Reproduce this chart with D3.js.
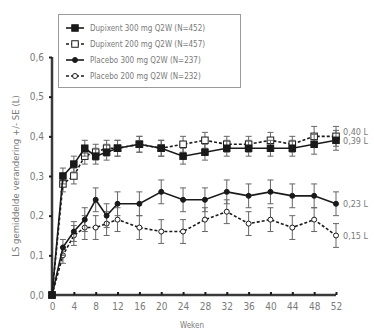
<!DOCTYPE html>
<html>
<head>
<meta charset="utf-8">
<script src="https://cdn.jsdelivr.net/npm/d3@7"></script>
<style>
  body { margin: 0; background: #fff; }
  svg text { font-family: "Liberation Sans Narrow", "DejaVu Sans Condensed", "Liberation Sans", sans-serif; fill: #7a7a7a; }
</style>
</head>
<body>
<svg id="chart" width="374" height="336"></svg>
<script>
// weeks of measurement
const weeks = [0, 2, 4, 6, 8, 10, 12, 16, 20, 24, 28, 32, 36, 40, 44, 48, 52];

// LS mean change (L) per series
const dupi300 = [0, 0.30, 0.33, 0.37, 0.35, 0.36, 0.37, 0.38, 0.37, 0.35, 0.36, 0.37, 0.37, 0.37, 0.37, 0.38, 0.39];
const dupi200 = [0, 0.28, 0.30, 0.35, 0.36, 0.37, 0.37, 0.38, 0.37, 0.38, 0.39, 0.38, 0.38, 0.39, 0.38, 0.40, 0.40];
const plac300 = [0, 0.12, 0.16, 0.19, 0.24, 0.20, 0.23, 0.23, 0.26, 0.24, 0.24, 0.26, 0.25, 0.26, 0.25, 0.25, 0.23];
const plac200 = [0, 0.10, 0.15, 0.17, 0.17, 0.18, 0.19, 0.17, 0.16, 0.16, 0.19, 0.21, 0.18, 0.19, 0.17, 0.19, 0.15];

// standard errors
const dupiSE = [0, 0.02, 0.02, 0.02, 0.02, 0.02, 0.02, 0.02, 0.02, 0.02, 0.02, 0.02, 0.02, 0.02, 0.02, 0.025, 0.025];
const placSE = [0, 0.02, 0.025, 0.03, 0.03, 0.03, 0.03, 0.03, 0.03, 0.03, 0.03, 0.03, 0.03, 0.03, 0.03, 0.03, 0.03];

const seriesNames = [
  'Dupixent 300 mg Q2W (N=452)',
  'Dupixent 200 mg Q2W (N=457)',
  'Placebo 300 mg Q2W (N=237)',
  'Placebo 200 mg Q2W (N=232)'
];
const endLabels = ['0,39 L', '0,40 L', '0,23 L', '0,15 L'];

const xTicks = weeks.filter(w => w % 4 === 0);
const yTicks = [0, 0.1, 0.2, 0.3, 0.4, 0.5, 0.6];

const series = [
  {name: seriesNames[0], values: dupi300, se: dupiSE, shape: 'square', filled: true, dash: null, label: endLabels[0], dy: 4},
  {name: seriesNames[1], values: dupi200, se: dupiSE, shape: 'square', filled: false, dash: '3,2', label: endLabels[1], dy: -1},
  {name: seriesNames[2], values: plac300, se: placSE, shape: 'circle', filled: true, dash: null, label: endLabels[2], dy: 3},
  {name: seriesNames[3], values: plac200, se: placSE, shape: 'circle', filled: false, dash: '3,2', label: endLabels[3], dy: 3}
];

const svg = d3.select('#chart');
const ink = '#1a1a1a';

const xScale = d3.scaleLinear().domain([0, 52]).range([52, 336]);
const yScale = d3.scaleLinear().domain([0, 0.6]).range([295, 57]);
const comma = v => d3.format('.1f')(v).replace('.', ',');

// y axis
const yAxis = svg.append('g')
  .attr('transform', 'translate(52,0)')
  .call(d3.axisLeft(yScale).tickValues(yTicks).tickSize(3).tickPadding(5).tickFormat(comma));
yAxis.select('.domain').attr('stroke', '#3a3a3a').attr('stroke-width', 2.5).attr('d', `M0,${yScale(0.6)}V${yScale(0)}`);
yAxis.selectAll('.tick line').attr('stroke', ink).attr('stroke-width', 2);
yAxis.selectAll('.tick text').attr('font-size', 10);

// x axis
const xAxis = svg.append('g')
  .attr('transform', `translate(0,${yScale(0)})`)
  .call(d3.axisBottom(xScale).tickValues(xTicks).tickSize(-3).tickPadding(8).tickFormat(d3.format('d')));
xAxis.select('.domain').attr('stroke', '#3a3a3a').attr('stroke-width', 2.5).attr('d', `M${xScale(0)},0H${xScale(52)}`);
xAxis.selectAll('.tick line').attr('stroke', ink).attr('stroke-width', 2);
xAxis.selectAll('.tick text').attr('font-size', 10);

// axis titles
svg.append('text')
  .attr('x', xScale(26) - 2).attr('y', 328)
  .attr('text-anchor', 'middle').attr('font-size', 8)
  .text('Weken');
svg.append('text')
  .attr('transform', `translate(19,${yScale(0.3) - 0})rotate(-90)`)
  .attr('text-anchor', 'middle').attr('font-size', 9.5)
  .text('LS gemiddelde verandering +/- SE (L)');

function drawMarker(g, s, x, y, size) {
  if (s.shape === 'square') {
    g.append('rect')
      .attr('x', x - size / 2).attr('y', y - size / 2)
      .attr('width', size).attr('height', size)
      .attr('fill', s.filled ? ink : '#fff')
      .attr('stroke', ink).attr('stroke-width', 1);
  } else {
    g.append('circle')
      .attr('cx', x).attr('cy', y).attr('r', size / 2 - 0.5)
      .attr('fill', s.filled ? ink : '#fff')
      .attr('stroke', ink).attr('stroke-width', 1);
  }
}

// draw series, open ones first so filled markers sit on top
const order = [1, 3, 0, 2];
order.forEach(idx => {
  const s = series[idx];
  const pts = weeks.map((w, i) => ({w, v: s.values[i], se: s.se[i]}));
  const g = svg.append('g');

  // error bars
  pts.filter(d => d.se > 0).forEach(d => {
    const x = xScale(d.w);
    const y1 = yScale(d.v + d.se), y2 = yScale(d.v - d.se);
    g.append('line').attr('x1', x).attr('x2', x).attr('y1', y1).attr('y2', y2)
      .attr('stroke', '#666').attr('stroke-width', 1);
    [y1, y2].forEach(yy => g.append('line')
      .attr('x1', x - 3).attr('x2', x + 3).attr('y1', yy).attr('y2', yy)
      .attr('stroke', '#666').attr('stroke-width', 1));
  });

  g.append('path')
    .datum(pts)
    .attr('fill', 'none')
    .attr('stroke', ink)
    .attr('stroke-width', 1.6)
    .attr('stroke-dasharray', s.dash)
    .attr('d', d3.line().x(d => xScale(d.w)).y(d => yScale(d.v)));

  pts.forEach(d => drawMarker(g, s, xScale(d.w), yScale(d.v), s.shape === 'square' ? 6.5 : 6));

  const last = s.values[s.values.length - 1];
  svg.append('text')
    .attr('x', xScale(52) + 7)
    .attr('y', yScale(last) + s.dy)
    .attr('font-size', 9)
    .text(s.label);
});

// legend
const legend = svg.append('g');
legend.append('rect')
  .attr('x', 58.5).attr('y', 14.5).attr('width', 182).attr('height', 73)
  .attr('fill', '#fff').attr('stroke', '#9a9a9a').attr('stroke-width', 1);
series.forEach((s, i) => {
  const y = 28 + i * 16;
  legend.append('line')
    .attr('x1', 66).attr('x2', 84).attr('y1', y).attr('y2', y)
    .attr('stroke', ink).attr('stroke-width', 1.6)
    .attr('stroke-dasharray', s.dash);
  drawMarker(legend, s, 75, y, s.shape === 'square' ? 6.5 : 6);
  legend.append('text')
    .attr('x', 90).attr('y', y + 3)
    .attr('font-size', 8)
    .text(s.name);
});
</script>
</body>
</html>
